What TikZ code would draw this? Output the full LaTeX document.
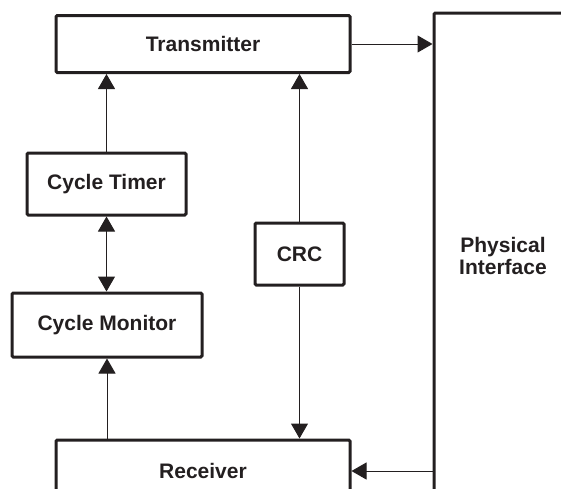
\documentclass[tikz,border=0pt]{standalone}
\usepackage{fontspec}
\setmainfont{Liberation Sans}
\usetikzlibrary{arrows.meta}
\definecolor{ink}{HTML}{231F20}
\begin{document}
\begin{tikzpicture}[x=0.5pt,y=-0.5pt,
  blk/.style={draw=ink,line width=1.5pt,rounded corners=0.6pt,inner sep=0pt,align=center,
    font=\fontsize{10.5pt}{10.6pt}\selectfont\bfseries,text=ink},
  arr/.style={draw=ink,line width=0.5pt,-{Triangle[length=7.5pt,width=8.5pt]}},
  darr/.style={draw=ink,line width=0.5pt,{Triangle[length=7.5pt,width=8.5pt]}-{Triangle[length=7.5pt,width=8.5pt]}}]
\useasboundingbox (0,0) rectangle (561,488);
\clip (0,0) rectangle (561,488);
\node[blk,minimum width=147pt,minimum height=28.5pt] (tx) at (203,44) {Transmitter};
\node[blk,minimum width=79.5pt,minimum height=31pt] (timer) at (106.5,184) {Cycle Timer};
\node[blk,minimum width=95pt,minimum height=32pt] (mon) at (107,325) {Cycle Monitor};
\node[blk,minimum width=44.5pt,minimum height=31pt] (crc) at (299.5,254) {CRC};
\node[blk,minimum width=147pt,minimum height=31pt] (rx) at (203,471) {Receiver};
\node[blk,minimum width=69pt,minimum height=243pt] (pi) at (503,256) {Physical\\Interface};
\draw[arr] (tx.east) -- (tx.east -| pi.west);
\draw[arr] (rx.east -| pi.west) -- (rx.east);
\draw[arr] (timer.north) -- (timer.north |- tx.south);
\draw[darr] (timer.south) -- (timer.south |- mon.north);
\draw[arr] (mon.south |- rx.north) -- (mon.south);
\draw[arr] (crc.north) -- (crc.north |- tx.south);
\draw[arr] (crc.south) -- (crc.south |- rx.north);
\end{tikzpicture}
\end{document}
